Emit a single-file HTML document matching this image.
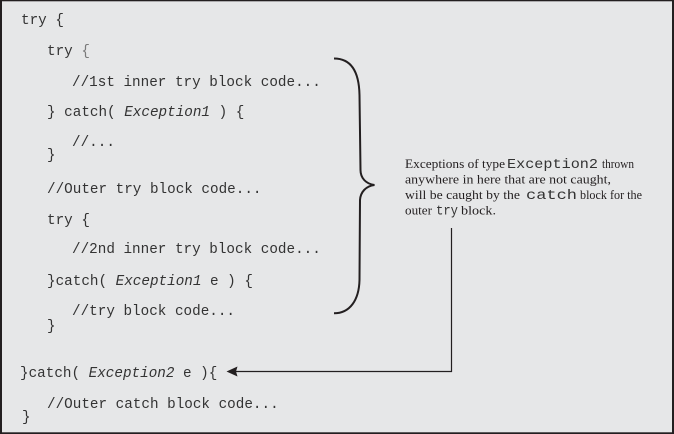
<!DOCTYPE html>
<html>
<head>
<meta charset="utf-8">
<style>
  html, body { margin: 0; padding: 0; background: #e6e7e8; }
  svg { display: block; }
  .code { font-family: "Liberation Mono", monospace; font-size: 14.3px; fill: #333333; white-space: pre; }
  .it { font-style: italic; }
  .ser { font-family: "Liberation Serif", serif; font-size: 12.5px; fill: #231f20; white-space: pre; }
  .mono { font-family: "Liberation Mono", monospace; font-size: 14px; fill: #333333; white-space: pre; }
</style>
</head>
<body>
<svg width="674" height="434" viewBox="0 0 674 434" xmlns="http://www.w3.org/2000/svg" xml:space="preserve">
  <rect x="0" y="0" width="674" height="434" fill="#e6e7e8"/>
  <!-- border -->
  <rect x="0" y="0" width="674" height="1.3" fill="#231f20"/>
  <rect x="0" y="0" width="2" height="434" fill="#231f20"/>
  <rect x="672" y="0" width="2" height="434" fill="#231f20"/>
  <rect x="0" y="432.3" width="674" height="1.7" fill="#231f20"/>

  <!-- code -->
  <text class="code" x="21" y="24">try {</text>
  <text class="code" x="47" y="55">try <tspan fill="#7a7a7a">{</tspan></text>
  <text class="code" x="72" y="86">//1st inner try block code...</text>
  <text class="code" x="47" y="116">} catch( <tspan class="it">Exception1</tspan> ) {</text>
  <text class="code" x="72" y="146">//...</text>
  <text class="code" x="47" y="159">}</text>
  <text class="code" x="47" y="193">//Outer try block code...</text>
  <text class="code" x="47" y="224">try {</text>
  <text class="code" x="72" y="253">//2nd inner try block code...</text>
  <text class="code" x="47" y="285">}catch( <tspan class="it">Exception1</tspan> e ) {</text>
  <text class="code" x="72" y="315">//try block code...</text>
  <text class="code" x="47" y="330">}</text>
  <text class="code" x="20" y="377">}catch( <tspan class="it">Exception2</tspan> e ){</text>
  <text class="code" x="47" y="408">//Outer catch block code...</text>
  <text class="code" x="22" y="421">}</text>

  <!-- curly brace -->
  <path d="M334,58.5 C350,58.5 359,70 359.5,95 L360.5,170 C360.5,178 366,184 374.5,185 C366,186 360.5,192 360,200 L359.5,280 C359,300 350,313.3 334,313.3"
        fill="none" stroke="#231f20" stroke-width="2"/>

  <!-- annotation -->
  <text class="ser" x="405" y="168" textLength="100" lengthAdjust="spacingAndGlyphs">Exceptions of type</text>
  <text class="mono" x="507" y="168" textLength="91" lengthAdjust="spacingAndGlyphs">Exception2</text>
  <text class="ser" x="602" y="168" textLength="32" lengthAdjust="spacingAndGlyphs">thrown</text>

  <text class="ser" x="405" y="183.5" textLength="206" lengthAdjust="spacingAndGlyphs">anywhere in here that are not caught,</text>

  <text class="ser" x="405" y="199" textLength="115" lengthAdjust="spacingAndGlyphs">will be caught by the</text>
  <text class="mono" x="526" y="199" textLength="51" lengthAdjust="spacingAndGlyphs">catch</text>
  <text class="ser" x="580" y="199" textLength="62" lengthAdjust="spacingAndGlyphs">block for the</text>

  <text class="ser" x="405" y="214.5" textLength="27" lengthAdjust="spacingAndGlyphs">outer</text>
  <text class="mono" x="436" y="214.5" textLength="22" lengthAdjust="spacingAndGlyphs">try</text>
  <text class="ser" x="461" y="214.5" textLength="35" lengthAdjust="spacingAndGlyphs">block.</text>

  <!-- connector -->
  <line x1="451.5" y1="228" x2="451.5" y2="372" stroke="#231f20" stroke-width="1.2"/>
  <line x1="236" y1="371.5" x2="452" y2="371.5" stroke="#231f20" stroke-width="1.2"/>
  <polygon points="226.5,371.5 237.5,366.5 236,371.5 237.5,376.5" fill="#231f20"/>
</svg>
</body>
</html>
